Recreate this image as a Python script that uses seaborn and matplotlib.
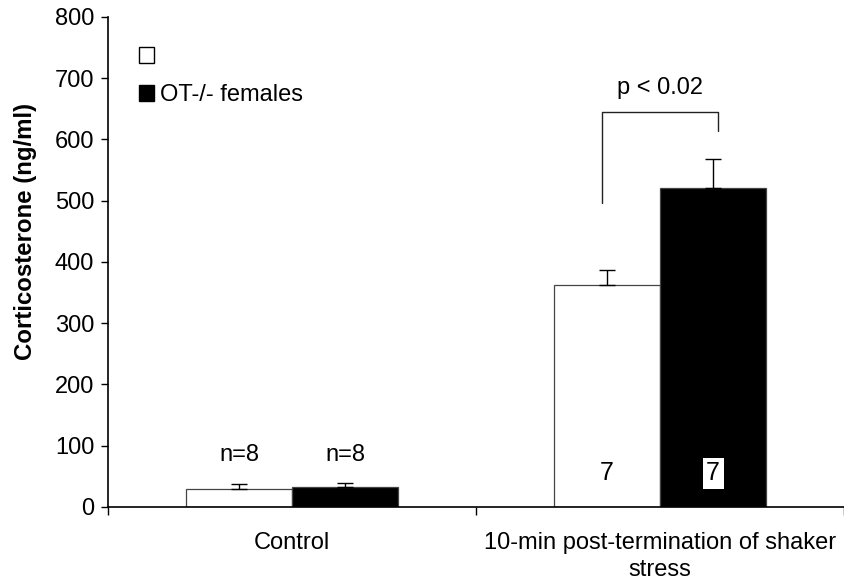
import matplotlib
matplotlib.use("Agg")
import matplotlib.pyplot as plt
from matplotlib.patches import Patch
import seaborn as sns
import pandas as pd

# Corticosterone values (ng/ml), mean and upper SEM
conditions = ["Control", "10-min post-termination of shaker\nstress"]
genotypes = ["WT", "OT-/- females"]
means_wt = [29, 362]
means_ko = [32, 520]
sem_wt = [8, 25]
sem_ko = [7, 48]
n_wt = ["n=8", "7"]
n_ko = ["n=8", "7"]
p_text = "p < 0.02"

sns.set_theme(style="white")
plt.rcParams["font.family"] = ["Liberation Sans", "DejaVu Sans"]
plt.rcParams["text.color"] = "black"
plt.rcParams["axes.labelcolor"] = "black"
plt.rcParams["xtick.color"] = "black"
plt.rcParams["ytick.color"] = "black"

FS = 17

df = pd.DataFrame({
    "condition": conditions * 2,
    "genotype": [genotypes[0]] * 2 + [genotypes[1]] * 2,
    "value": means_wt + means_ko,
})

fig = plt.figure(figsize=(8.45, 5.84), dpi=100)
ax = fig.add_axes([0.128, 0.132, 0.871, 0.839])

sns.barplot(data=df, x="condition", y="value", hue="genotype",
            order=conditions, hue_order=genotypes,
            palette=["white", "black"], width=0.576, gap=0,
            edgecolor="#444444", linewidth=0.9, errorbar=None,
            legend=False, ax=ax)

bars = ax.patches[:4]
centers = [b.get_x() + b.get_width() / 2 for b in bars]
x_wt, x_ko = centers[:2], centers[2:]

# one-sided (upper) error bars
ax.errorbar(x_wt, means_wt, yerr=[[0, 0], sem_wt], fmt="none",
            ecolor="black", elinewidth=1, capsize=5.5, capthick=1)
ax.errorbar(x_ko, means_ko, yerr=[[0, 0], sem_ko], fmt="none",
            ecolor="black", elinewidth=1, capsize=5.5, capthick=1)

# group sizes
ax.text(x_wt[0], 85, n_wt[0], ha="center", va="center", fontsize=FS)
ax.text(x_ko[0], 85, n_ko[0], ha="center", va="center", fontsize=FS)
ax.text(x_wt[1], 55, n_wt[1], ha="center", va="center", fontsize=FS + 1)
ax.text(x_ko[1], 55, n_ko[1], ha="center", va="center", fontsize=FS + 1,
        bbox=dict(facecolor="white", edgecolor="none", pad=2.5))

# significance bracket
bx0, bx1 = x_wt[1] - 0.013, x_ko[1] + 0.013
ax.plot([bx0, bx0, bx1, bx1], [496, 645, 645, 614], color="#222222", lw=1)
ax.text((bx0 + bx1) / 2, 684, p_text, ha="center", va="center", fontsize=FS)

ax.set_ylim(0, 800)
ax.set_xlim(-0.5, 1.5)
ax.set_yticks(range(0, 801, 100))
ax.tick_params(axis="y", direction="out", length=5, width=1,
               labelsize=FS, pad=5, left=True)
ax.tick_params(axis="x", which="major", length=0, labelsize=FS, pad=18)
for lbl in ax.get_xticklabels():
    lbl.set_linespacing(1.3)
ax.set_xticks([-0.5, 0.5, 1.5], minor=True)
ax.tick_params(axis="x", which="minor", direction="out", length=6, width=1,
               bottom=True)

for s in ["top", "right"]:
    ax.spines[s].set_visible(False)
for s in ["left", "bottom"]:
    ax.spines[s].set_color("black")
    ax.spines[s].set_linewidth(1.2)

ax.set_xlabel("")
ax.set_ylabel("Corticosterone (ng/ml)", fontsize=17.3, fontweight="bold")
ax.yaxis.set_label_coords(-0.097, 0.563)

handles = [Patch(facecolor="white", edgecolor="black", linewidth=1),
           Patch(facecolor="black", edgecolor="black", linewidth=1)]
ax.legend(handles, ["", genotypes[1]], loc="upper left",
          bbox_to_anchor=(31 / 737, 1 - 29 / 490), frameon=False,
          borderpad=0, borderaxespad=0, handlelength=0.65, handleheight=0.65,
          handletextpad=0.25, labelspacing=0.7, fontsize=FS)

fig.savefig("out.png", dpi=100)
